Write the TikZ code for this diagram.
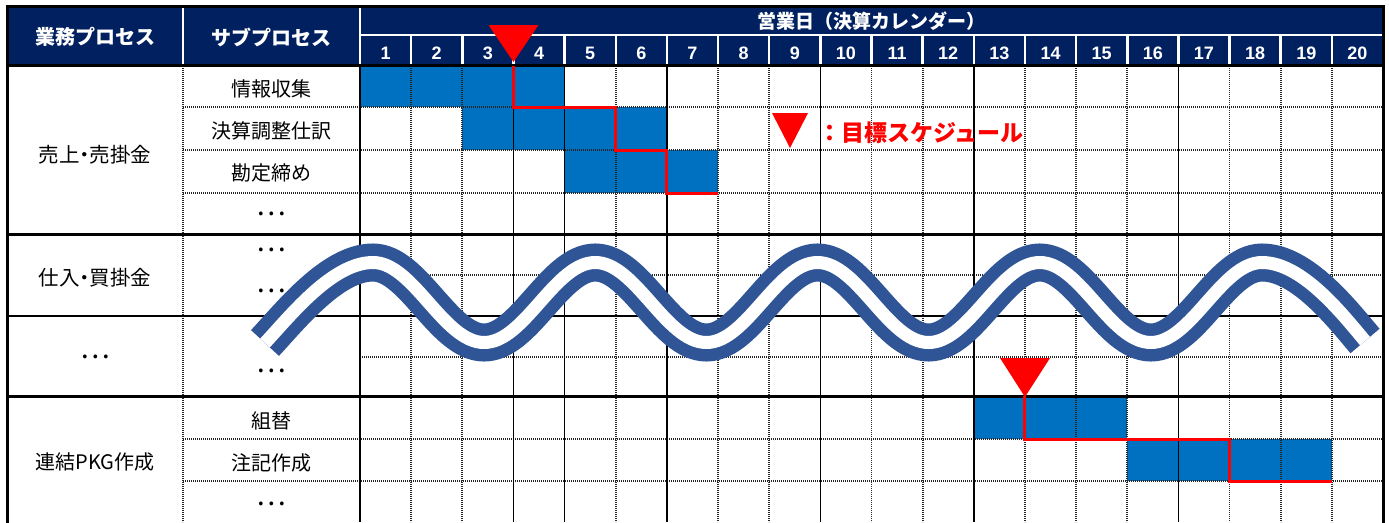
\documentclass[tikz,border=0pt]{standalone}
\usepackage{fontspec}
\setmainfont{Liberation Sans}
\newfontfamily\jp{Noto Sans CJK JP}
\newfontfamily\jpp[RawFeature=+palt]{Noto Sans CJK JP}
\definecolor{hdrnavy}{RGB}{0,32,96}
\definecolor{cellblue}{RGB}{0,112,192}
\definecolor{waveblue}{RGB}{47,85,151}
\newcommand{\dayx}[1]{360+51.15*(#1)}
\tikzset{
  hdrtext/.style={text=white, font=\jp\bfseries\fontsize{20}{20}\selectfont, inner sep=0pt},
  caltext/.style={text=white, font=\jp\bfseries\fontsize{19}{19}\selectfont, inner sep=0pt},
  daynum/.style={text=white, font=\bfseries\fontsize{18}{18}\selectfont, inner sep=0pt},
  bodytext/.style={font=\jp\fontsize{20}{20}\selectfont, inner sep=0pt},
  proctext/.style={font=\jpp\fontsize{20.5}{20.5}\selectfont, inner sep=0pt},
  dotstext/.style={font=\jp\fontsize{28}{28}\selectfont, inner sep=0pt},
  legendtext/.style={text=red, font=\jp\bfseries\fontsize{23}{23}\selectfont, inner sep=0pt, anchor=west},
  dotline/.style={black!85, line width=1.8pt, dash pattern=on 1.2pt off 0.8pt},
  solidline/.style={black, line width=1.5pt},
  thickline/.style={black, line width=3pt},
  hdrsep/.style={white, line width=2.5pt},
  sched/.style={red, line width=3pt, line join=miter},
  target/.style={fill=red},
  cell/.style={fill=cellblue},
  waveouter/.style={draw=waveblue, line width=38pt, line cap=butt},
  waveinner/.style={draw=white, line width=13pt, line cap=butt},
}
\begin{document}
\begin{tikzpicture}[x=1pt,y=-1pt]
\useasboundingbox (0,0) rectangle (1389,522);
\fill[white] (0,0) rectangle (1389,522);
\begin{scope}
\clip (0,0) rectangle (1389,522);
% header background
\fill[hdrnavy] (7,6) rectangle (1383,66);
\draw[hdrsep] (183,7) -- (183,64) (360,7) -- (360,64) (360,35) -- (1382,35);
\foreach \k in {1,...,19} \draw[hdrsep] ({\dayx{\k}},35) -- ({\dayx{\k}},64);
% blue cells
\foreach \ca/\cb/\ra/\rb in {0/4/66/107, 2/6/107/150, 4/7/150/193, 12/15/396/439, 15/19/439/481}
  \fill[cell] ({\dayx{\ca}},\ra) rectangle ({\dayx{\cb}},\rb);
% grid
\foreach \yy in {107,150,193,439,481} \draw[dotline] (183,\yy) -- (1383,\yy);
\foreach \yy in {275,357} \draw[dotline] (360,\yy) -- (1383,\yy);
\draw[dotline] (183,66) -- (183,522);
\foreach \k in {1,2,5,7,8,10,11,13,14,15,17,18,19} \draw[dotline] ({\dayx{\k}},66) -- ({\dayx{\k}},522);
\foreach \k in {3,4,6,9,12,16} \draw[solidline] ({\dayx{\k}},66) -- ({\dayx{\k}},522);
\draw[solidline] (360,66) -- (360,522);
\draw[solidline] (7,316) -- (1383,316);
\draw[thickline] (7,234) -- (1383,234) (7,396) -- (1383,396);
\draw[thickline] (7,65.5) -- (1383,65.5);
\draw[thickline] (7,523) -- (7,6) -- (1383,6) -- (1383,523);
% header texts
\node[hdrtext] (h1) at (95,37) {業務プロセス};
\node[hdrtext] (h2) at (271.5,37) {サブプロセス};
\node[caltext] (h3) at (871,21) {営業日（決算カレンダー）};
\foreach \k in {1,...,20} \node[daynum] (d\k) at ({\dayx{\k-0.5}},53) {\k};
% process texts
\node[proctext] (p1) at (95,155) {売上・売掛金};
\node[proctext] (p2) at (95,278) {仕入・買掛金};
\node[dotstext] (p3) at (95,357) {…};
\node[bodytext] (p4) at (95,462) {連結PKG作成};
% sub process texts
\node[bodytext] (s1) at (271.5,89) {情報収集};
\node[bodytext] (s2) at (271.5,131) {決算調整仕訳};
\node[bodytext] (s3) at (271.5,173) {勘定締め};
\node[dotstext] (s4) at (271.5,214) {…};
\node[dotstext] (s5) at (271.5,250) {…};
\node[dotstext] (s6) at (271.5,291) {…};
\node[dotstext] (s7) at (271.5,371) {…};
\node[bodytext] (s8) at (271.5,421) {組替};
\node[bodytext] (s9) at (271.5,463) {注記作成};
\node[dotstext] (s10) at (271.5,504) {…};
% target schedule lines
\draw[sched] ({\dayx{3}},66) -- ({\dayx{3}},107) -- ({\dayx{5}},107) -- ({\dayx{5}},150)
  -- ({\dayx{6}},150) -- ({\dayx{6}},193) -- ({\dayx{7}},193);
\draw[sched] ({\dayx{13}},396) -- ({\dayx{13}},439) -- ({\dayx{17}},439) -- ({\dayx{17}},481)
  -- ({\dayx{19}},481);
% target markers
\fill[target] (488.5,25) -- (538.5,25) -- ({\dayx{3}},62) -- cycle;
\fill[target] (1000,358) -- (1050,358) -- ({\dayx{13}},397) -- cycle;
\fill[target] (772,113) -- (808,113) -- (790,148) -- cycle;
\node[legendtext] (lg) at (818,133) {：目標スケジュール};
% wave (omission mark)
\def\wavepath{(265,343) .. controls +(26,-28) and +(-40.4,0) .. (373,262.5)
  .. controls +(40.4,0) and +(-40.4,0) .. (484.1,342.5)
  .. controls +(40.4,0) and +(-40.4,0) .. (595.25,262.5)
  .. controls +(40.4,0) and +(-40.4,0) .. (706.4,342.5)
  .. controls +(40.4,0) and +(-40.4,0) .. (817.5,262.5)
  .. controls +(40.4,0) and +(-40.4,0) .. (928.6,342.5)
  .. controls +(40.4,0) and +(-40.4,0) .. (1039.75,262.5)
  .. controls +(40.4,0) and +(-40.4,0) .. (1150.9,342.5)
  .. controls +(40.4,0) and +(-40.4,0) .. (1262,262.5)
  .. controls +(40.4,0) and +(-22,-26) .. (1365,341)}
\draw[waveouter] \wavepath;
\draw[waveinner] \wavepath;
\end{scope}
\end{tikzpicture}
\end{document}
